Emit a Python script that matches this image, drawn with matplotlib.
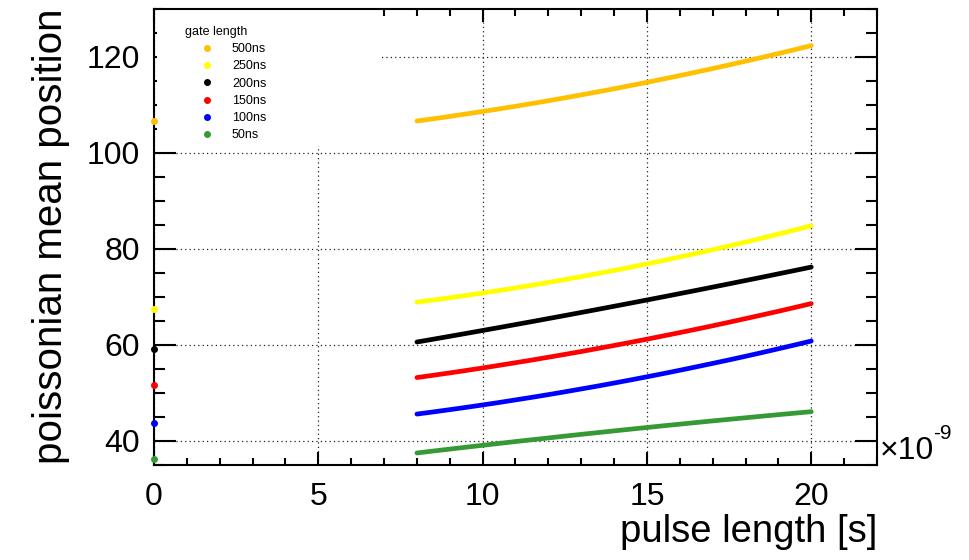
import numpy as np
import matplotlib.pyplot as plt
from matplotlib.lines import Line2D
from matplotlib.patches import Rectangle
from matplotlib.ticker import MultipleLocator

plt.rcParams['font.family'] = ['Liberation Sans', 'DejaVu Sans']

# pulse length in units of 1e-9 s
pulse_ns = [8.0, 8.5, 9.0, 9.5, 10.0, 10.5, 11.0, 11.5, 12.0, 12.5, 13.0, 13.5, 14.0,
            14.5, 15.0, 15.5, 16.0, 16.5, 17.0, 17.5, 18.0, 18.5, 19.0, 19.5, 20.0]

gates = ['500ns', '250ns', '200ns', '150ns', '100ns', '50ns']
colors = ['#ffc000', '#ffff00', '#000000', '#ff0000', '#0000ff', '#359a35']

mean_500 = [106.60, 107.07, 107.56, 108.07, 108.59, 109.12, 109.67, 110.24, 110.82,
            111.42, 112.04, 112.67, 113.31, 113.98, 114.65, 115.35, 116.06, 116.78,
            117.52, 118.28, 119.05, 119.84, 120.64, 121.46, 122.30]
mean_250 = [68.90, 69.35, 69.81, 70.30, 70.80, 71.32, 71.86, 72.42, 73.00, 73.60,
            74.21, 74.85, 75.50, 76.17, 76.86, 77.57, 78.30, 79.05, 79.81, 80.60,
            81.40, 82.22, 83.06, 83.92, 84.80]
mean_200 = [60.60, 61.19, 61.79, 62.39, 63.00, 63.61, 64.23, 64.85, 65.48, 66.11,
            66.75, 67.39, 68.04, 68.69, 69.35, 70.01, 70.68, 71.35, 72.03, 72.71,
            73.40, 74.09, 74.79, 75.49, 76.20]
mean_150 = [53.20, 53.68, 54.17, 54.68, 55.20, 55.74, 56.29, 56.85, 57.43, 58.02,
            58.62, 59.25, 59.88, 60.53, 61.19, 61.87, 62.56, 63.26, 63.98, 64.72,
            65.47, 66.23, 67.00, 67.79, 68.60]
mean_100 = [45.60, 46.05, 46.52, 47.00, 47.50, 48.01, 48.55, 49.09, 49.65, 50.23,
            50.83, 51.43, 52.06, 52.70, 53.36, 54.03, 54.72, 55.43, 56.15, 56.88,
            57.63, 58.40, 59.19, 59.99, 60.80]
mean_50 = [37.50, 37.91, 38.31, 38.71, 39.10, 39.49, 39.88, 40.26, 40.63, 41.01,
           41.38, 41.74, 42.10, 42.46, 42.81, 43.16, 43.50, 43.84, 44.18, 44.51,
           44.83, 45.16, 45.48, 45.79, 46.10]
# stray first point of each graph sitting at x = 0
mean_at_zero = [106.7, 67.4, 59.2, 51.6, 43.8, 36.2]

all_means = [mean_500, mean_250, mean_200, mean_150, mean_100, mean_50]

fig = plt.figure(figsize=(9.7, 5.6), dpi=100)
ax = fig.add_axes([154 / 970, 1 - 465 / 560, 723 / 970, 456.4 / 560])

for vals, col in zip(all_means, colors):
    ax.plot(pulse_ns, vals, color=col, lw=3.4, solid_capstyle='round', zorder=3)
for v, col in zip(mean_at_zero, colors):
    ax.plot([0], [v], 'o', color=col, ms=4, clip_on=False, zorder=5)

ax.set_xlim(0, 22)
ax.set_ylim(35, 130)
ax.xaxis.set_major_locator(MultipleLocator(5))
ax.xaxis.set_minor_locator(MultipleLocator(1))
ax.yaxis.set_major_locator(MultipleLocator(20))
ax.yaxis.set_minor_locator(MultipleLocator(5))

ax.set_axisbelow(True)
ax.grid(True, which='major', color='#222222', lw=0.9, linestyle=(0, (1, 2.5)))

for s in ax.spines.values():
    s.set_linewidth(1.5)
ax.tick_params(axis='both', which='both', direction='in', top=True, right=True, width=1.5)
ax.tick_params(axis='y', which='major', length=16, pad=10, labelsize=23)
ax.tick_params(axis='y', which='minor', length=8)
ax.tick_params(axis='x', which='major', length=9.5, pad=12, labelsize=23)
ax.tick_params(axis='x', which='minor', length=5)

ax.set_xlabel('pulse length [s]', loc='right', fontsize=27.5, labelpad=2)
ax.set_ylabel('poissonian mean position', loc='top', fontsize=29, labelpad=12)
ax.text(1.004, 0.03, '×10', transform=ax.transAxes, fontsize=23,
        ha='left', va='center')
ax.text(1.077, 0.07, '-9', transform=ax.transAxes, fontsize=15,
        ha='left', va='center')

# white legend pad hiding the grid behind it
ax.add_patch(Rectangle((0.004, 0.70), 0.308, 0.297, transform=ax.transAxes,
                       facecolor='white', edgecolor='none', zorder=2))
handles = [Line2D([], [], ls='none', marker='o', ms=4, color=c) for c in colors]
ax.legend(handles, gates, title='gate length', loc='upper left',
          bbox_to_anchor=(31 / 723, 0.962), borderaxespad=0, borderpad=0,
          frameon=False, fontsize=9, title_fontsize=9, alignment='left',
          handlelength=3.5, handletextpad=0.25, labelspacing=0.42)

fig.savefig('out.png', dpi=100)
